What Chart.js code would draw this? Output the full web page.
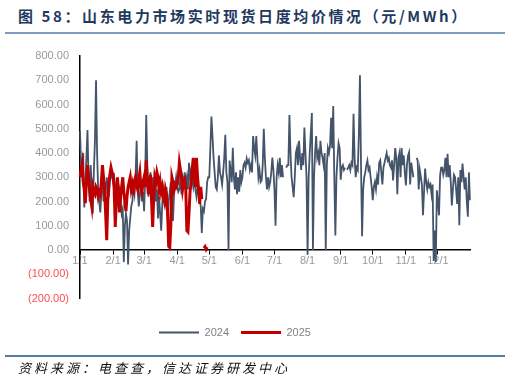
<!DOCTYPE html>
<html>
<head>
<meta charset="utf-8">
<script src="https://cdn.jsdelivr.net/npm/chart.js@4"></script>
<style>
  body { margin: 0; background: #fff; }
  #wrap { position: relative; width: 511px; height: 380px; overflow: hidden; }
  #myChart { position: absolute; left: 0; top: 0; }
  .title {
    position: absolute; left: 18px; top: 5px; white-space: nowrap;
    font: bold 15px "Noto Sans CJK SC", sans-serif; letter-spacing: 2.6px; color: #1f3a60;
  }
  .rule { position: absolute; left: 5px; width: 500px; height: 2px; }
  .source {
    position: absolute; left: 18px; top: 358px; white-space: nowrap;
    font: italic 13px "Noto Sans CJK SC", sans-serif; letter-spacing: 3px; color: #111;
  }
</style>
</head>
<body>
<div id="wrap">
  <div class="title">图 58：山东电力市场实时现货日度均价情况（元/MWh）</div>
  <div class="rule" style="top:32px;background:#7f9bbf;"></div>
  <canvas id="myChart" width="511" height="380"></canvas>
  <div class="rule" style="top:355px;background:#5a7aa6;"></div>
  <div class="source">资料来源：电查查，信达证券研发中心</div>
</div>
<script>
'use strict'

// 日付（2024年のカレンダーで並べる）
const months = [1, 2, 3, 4, 5, 6, 7, 8, 9, 10, 11, 12];
const daysInMonth = [31, 29, 31, 30, 31, 30, 31, 31, 30, 31, 30, 31];
const seriesNames = ["2024", "2025"];

// 2024年 日度均价（元/MWh）
const p2024Jan = [490, 355, 330, 400, 175, 260, 380, 495, 300, 200, 350, 260, 150, 330, 450, 700, 400, 250, 200, 155, 240, 300, 200, 280, 230, 300, 260, 220, 280, 340, 300];
const p2024Feb = [280, 300, 260, 220, 280, 230, 250, 200, 150, 170, -50, 100, 150, 120, -60, 80, 130, 180, 200, 260, 230, 300, 450, 250, 180, 230, 280, 200, 240];
const p2024Mar = [160, 300, 557, 350, 220, 280, 320, 250, 300, 230, 280, 200, 250, 130, 220, 150, 80, 190, 250, 220, 180, 260, 130, 200, 240, 280, 200, 120, 230, 260, 300];
const p2024Apr = [260, 240, 250, 300, 230, 300, 280, 320, 270, 300, 250, 360, 300, 330, 290, 260, 300, 250, 220, 260, 230, 210, 180, 70, 170, 160, 200, 210, 280, 300];
const p2024May = [300, 420, 550, 470, 380, 320, 260, 250, 300, 390, 320, 300, 270, 320, 380, 475, 320, 280, 0, 369, 330, 280, 422, 300, 250, 320, 230, 300, 240, 330, 280];
const p2024Jun = [300, 350, 360, 340, 377, 360, 370, 330, 350, 320, 470, 420, 390, 470, 380, 300, 330, 280, 287, 350, 500, 380, 300, 250, 300, 260, 280, 320, 381, 330];
const p2024Jul = [250, 100, 300, 350, 320, 380, 300, 350, 300, null, null, 340, 350, 350, 557, 400, 300, 260, 218, 300, 400, 420, 350, 450, 380, 330, 400, 350, 505, 400, 300];
const p2024Aug = [-20, 300, 400, 480, 565, 0, 300, 400, 470, 380, 400, 350, 450, 400, 380, 350, 400, 0, 350, 420, 400, 430, 545, 420, 594, 300, 60, 300, 380, 440, 420];
const p2024Sep = [290, 340, 350, 330, 340, null, 330, 340, 350, 330, 360, 350, 562, 380, 300, 340, 330, 480, 721, 350, 57, 250, 300, 320, 350, 369, 330, 340, 300, 260];
const p2024Oct = [205, 260, 280, 250, 300, 270, 360, 370, 320, 270, 340, 360, 380, 400, 370, 380, 350, 340, 370, 287, 350, 420, 380, 230, 380, 400, 300, 420, 350, 390, 320];
const p2024Nov = [266, 350, 390, 403, 270, 360, 330, 300, null, null, 380, 370, 250, 330, 300, 270, 143, 240, 336, 280, 250, 280, 260, 270, 230, 270, -45, 80, -50, 246];
const p2024Dec = [200, 143, 307, 340, 340, 310, 330, 380, 300, 397, 300, 350, 280, 184, 250, 310, 300, 250, 190, 300, 102, 330, 280, 356, 300, 250, 300, 200, 137, 320, 205];

// 2025年 日度均价（同じ月日の位置に並べる）
const p2025Jan = [300, 330, 356, 280, 250, 193, 280, 350, 300, 250, 210, 180, 260, 240, 230, 260, 250, 220, 240, 230, 280, 350, 300, 250, 150, 40, 200, 280, 310, 340, 320];
const p2025Feb = [310, 250, 95, 200, 300, 240, 155, 220, 260, 300, 240, 200, 160, 220, 260, 280, 300, 250, 270, 230, 280, 300, 270, 250, 290, 320, 260, 240, 280];
const p2025Mar = [300, 260, 370, 280, 230, 270, 310, 200, 95, 220, 300, 280, 320, 300, 250, 280, 240, 260, 220, 200, 250, 230, 150, 15, 10, 100, 300, 280, 250, 270, 260];
const p2025Apr = [270, 300, 360, 330, 300, 250, 280, 290, 250, 80, 75, 150, 240, 280, 330, 380, 300, 260, 380, 300, 250, 190, 260, 210, null, 8, 14, 3, 12, null];

const labels = [];
months.forEach((m, i) => {
    for (let d = 1; d <= daysInMonth[i]; d++) labels.push(m + "/" + d);
});

const data2024 = [].concat(p2024Jan, p2024Feb, p2024Mar, p2024Apr, p2024May, p2024Jun,
    p2024Jul, p2024Aug, p2024Sep, p2024Oct, p2024Nov, p2024Dec);
const data2025 = [].concat(p2025Jan, p2025Feb, p2025Mar, p2025Apr);

const isMonthStart = (i) => labels[i] !== undefined && labels[i].endsWith("/1");

let ctx = document.getElementById("myChart");

new Chart(ctx, {
    type: 'line',
    data: {
        labels: labels,
        datasets: [{
            label: seriesNames[0],
            data: data2024,
            borderColor: "#44546a",
            backgroundColor: "#44546a",
            borderWidth: 1.8,
            pointRadius: 0,
            order: 2
        }, {
            label: seriesNames[1],
            data: data2025,
            borderColor: "#c00000",
            backgroundColor: "#c00000",
            borderWidth: 3,
            pointRadius: 0,
            order: 1
        }]
    },
    options: {
        responsive: false,
        animation: false,
        spanGaps: false,
        layout: { padding: { top: 56, left: 0, right: 41, bottom: 32 } },
        plugins: {
            tooltip: { enabled: false },
            legend: {
                position: 'bottom',
                title: { display: true, text: '', padding: 0, font: { size: 11, lineHeight: 1.5 } },
                labels: {
                    usePointStyle: true,
                    pointStyle: 'line',
                    pointStyleWidth: 40,
                    padding: 12,
                    color: '#808080',
                    font: { size: 11, family: 'Liberation Sans, Arial, sans-serif' },
                    sort: (a, b) => a.datasetIndex - b.datasetIndex
                }
            }
        },
        scales: {
            x: {
                type: 'category',
                position: { y: 0 },
                offset: false,
                border: { color: '#000', width: 1.5 },
                grid: {
                    drawOnChartArea: false,
                    drawTicks: true,
                    tickLength: 4,
                    color: (c) => isMonthStart(c.index) ? '#000' : 'rgba(0,0,0,0)'
                },
                ticks: {
                    autoSkip: false,
                    maxRotation: 0,
                    padding: 0,
                    color: '#999',
                    font: { size: 11, family: 'Liberation Sans, Arial, sans-serif' },
                    callback: function (v, i) { return isMonthStart(i) ? labels[i] : ''; }
                }
            },
            y: {
                min: -200,
                max: 800,
                afterFit: (scale) => { scale.width = 80; },
                border: { color: '#000', width: 1.5 },
                grid: { display: false, drawTicks: false },
                ticks: {
                    stepSize: 100,
                    padding: 11,
                    color: (c) => c.tick && c.tick.value < 0 ? '#ff4d4d' : '#999',
                    font: { size: 11, family: 'Liberation Sans, Arial, sans-serif' },
                    callback: (v) => v < 0 ? '(' + Math.abs(v).toFixed(2) + ')' : v.toFixed(2)
                }
            }
        }
    }
});
</script>
</body>
</html>
